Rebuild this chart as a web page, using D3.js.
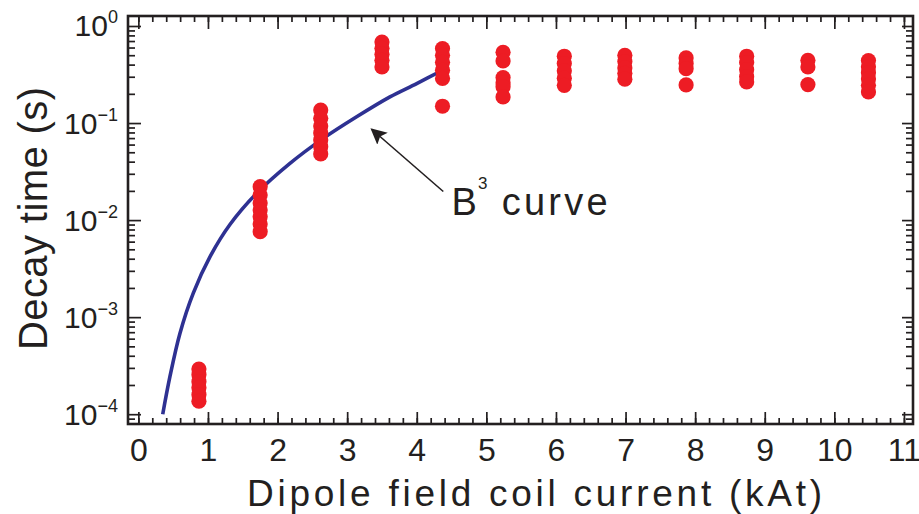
<!DOCTYPE html>
<html>
<head>
<meta charset="utf-8">
<script src="https://cdn.jsdelivr.net/npm/d3@7"></script>
<style>
  body { margin: 0; background: #fff; }
  svg { display: block; font-family: "Liberation Sans", Arial, sans-serif; }
  .axis path { display: none; }
  .axis line { stroke: #231f20; stroke-width: 1.7; }
</style>
</head>
<body>
<div id="chart"></div>
<script>
// measured columns (kAt) and decay times (s)
const currents = [0.87, 1.75, 2.62, 3.5, 4.37, 5.24, 6.12, 6.99, 7.87, 8.74, 9.62, 10.49];
const decayTimes = [
  [2.92e-4, 2.55e-4, 2.16e-4, 1.87e-4, 1.59e-4, 1.36e-4],
  [0.0221, 0.0181, 0.0150, 0.0127, 0.0108, 0.0091, 0.0076],
  [0.136, 0.112, 0.093, 0.079, 0.067, 0.057, 0.048],
  [0.684, 0.589, 0.512, 0.443, 0.378],
  [0.585, 0.499, 0.423, 0.350, 0.288, 0.149],
  [0.536, 0.436, 0.294, 0.26, 0.237, 0.186],
  [0.488, 0.41, 0.345, 0.29, 0.245],
  [0.499, 0.43, 0.37, 0.325, 0.283],
  [0.469, 0.41, 0.363, 0.247],
  [0.488, 0.42, 0.355, 0.30, 0.265],
  [0.443, 0.378, 0.249],
  [0.44, 0.38, 0.33, 0.285, 0.245, 0.209]
];

// B^3 fit curve
const curveCurrent = [0.35, 0.454, 0.598, 0.789, 1.03, 1.316, 1.70, 2.178, 2.657, 3.136, 3.615, 3.999, 4.37];
const curveTime = [1.0e-4, 2.45e-4, 6.84e-4, 1.77e-3, 4.2e-3, 9.0e-3, 0.0189, 0.0384, 0.0695, 0.116, 0.186, 0.255, 0.35];

const xTicks = d3.range(0, 12);
const xMinorTicks = d3.range(0, 55.5).map(i => i * 0.2);
const yTicks = [1e-4, 1e-3, 1e-2, 1e-1, 1];
const yTickExp = ["−4", "−3", "−2", "−1", "0"];

const svgWidth = 919;
const svgHeight = 514;
const plot = { left: 128, right: 913, top: 16, bottom: 424 };

const svg = d3.select("#chart").append("svg")
  .attr("width", svgWidth)
  .attr("height", svgHeight);

const x = d3.scaleLinear()
  .domain([-0.149, 11.13])
  .range([plot.left, plot.right]);

const y = d3.scaleLog()
  .domain([Math.pow(10, -4.101), Math.pow(10, 0.103)])
  .range([plot.bottom, plot.top]);

const yMinorTicks = [];
[-5, -4, -3, -2, -1, 0].forEach(e => {
  for (let m = 2; m <= 9; m++) {
    const v = m * Math.pow(10, e);
    if (v > y.domain()[0] && v < y.domain()[1]) yMinorTicks.push(v);
  }
});

// ticks (all inward)
const axes = svg.append("g");
axes.append("g").attr("class", "axis")
  .attr("transform", `translate(0,${plot.bottom})`)
  .call(d3.axisBottom(x).tickValues(xMinorTicks).tickSize(-6).tickFormat(""));
axes.append("g").attr("class", "axis")
  .attr("transform", `translate(0,${plot.bottom})`)
  .call(d3.axisBottom(x).tickValues(xTicks).tickSize(-12).tickFormat(""));
axes.append("g").attr("class", "axis")
  .attr("transform", `translate(0,${plot.top})`)
  .call(d3.axisTop(x).tickValues(xMinorTicks).tickSize(-6).tickFormat(""));
axes.append("g").attr("class", "axis")
  .attr("transform", `translate(0,${plot.top})`)
  .call(d3.axisTop(x).tickValues(xTicks).tickSize(-13).tickFormat(""));
axes.append("g").attr("class", "axis")
  .attr("transform", `translate(${plot.left},0)`)
  .call(d3.axisLeft(y).tickValues(yMinorTicks).tickSize(-7).tickFormat(""));
const yAxisLeft = axes.append("g").attr("class", "axis")
  .attr("transform", `translate(${plot.left},0)`)
  .call(d3.axisLeft(y).tickValues(yTicks).tickSize(-13).tickFormat(""));
axes.append("g").attr("class", "axis")
  .attr("transform", `translate(${plot.right},0)`)
  .call(d3.axisRight(y).tickValues(yMinorTicks).tickSize(-7).tickFormat(""));
axes.append("g").attr("class", "axis")
  .attr("transform", `translate(${plot.right},0)`)
  .call(d3.axisRight(y).tickValues(yTicks).tickSize(-11).tickFormat(""));

// frame
svg.append("rect")
  .attr("x", plot.left)
  .attr("y", plot.top)
  .attr("width", plot.right - plot.left)
  .attr("height", plot.bottom - plot.top)
  .attr("fill", "none")
  .attr("stroke", "#231f20")
  .attr("stroke-width", 2.6);

// x tick labels
svg.append("g")
  .attr("transform", `translate(0,${plot.bottom})`)
  .call(d3.axisBottom(x).tickValues(xTicks).tickSize(0).tickFormat(d3.format("d")))
  .call(g => g.select(".domain").remove())
  .selectAll("text")
  .attr("y", 37)
  .attr("dy", null)
  .attr("fill", "#231f20")
  .attr("font-size", 32)
  .attr("font-family", "Liberation Sans, Arial, sans-serif");

// y tick labels as 10^n
yAxisLeft.selectAll(".tick").each(function(d) {
  const t = d3.select(this).append("text")
    .attr("x", -10)
    .attr("y", 10)
    .attr("text-anchor", "end")
    .attr("fill", "#231f20")
    .attr("font-size", 30);
  t.append("tspan").text("10");
  t.append("tspan")
    .attr("dy", -13)
    .attr("font-size", 18)
    .text(yTickExp[yTicks.indexOf(d)]);
});

// fit curve
const line = d3.line()
  .x(d => x(d[0]))
  .y(d => y(d[1]))
  .curve(d3.curveCatmullRom.alpha(0.5));

svg.append("path")
  .datum(curveCurrent.map((c, i) => [c, curveTime[i]]))
  .attr("d", line)
  .attr("fill", "none")
  .attr("stroke", "#2e3192")
  .attr("stroke-width", 3.6);

// measured points
const points = currents.flatMap((c, i) => decayTimes[i].map(t => ({ current: c, time: t })));
svg.append("g")
  .selectAll("circle")
  .data(points)
  .join("circle")
  .attr("cx", d => x(d.current))
  .attr("cy", d => y(d.time))
  .attr("r", 7.6)
  .attr("fill", "#ed1c24");

// annotation arrow
svg.append("defs").append("marker")
  .attr("id", "head")
  .attr("viewBox", "0 0 10 10")
  .attr("refX", 9)
  .attr("refY", 5)
  .attr("markerWidth", 10)
  .attr("markerHeight", 10)
  .attr("markerUnits", "strokeWidth")
  .attr("orient", "auto")
  .append("path")
  .attr("d", "M0,0 L10,5 L0,10 L2,5 Z")
  .attr("fill", "#231f20");

svg.append("line")
  .attr("x1", x(4.381)).attr("y1", y(0.0197))
  .attr("x2", x(3.352)).attr("y2", y(0.0863))
  .attr("stroke", "#231f20")
  .attr("stroke-width", 1.6)
  .attr("marker-end", "url(#head)");

const note = svg.append("text")
  .attr("fill", "#231f20")
  .attr("font-size", 38);
note.append("tspan").attr("x", x(4.50)).attr("y", y(0.0113)).text("B");
note.append("tspan").attr("x", x(4.88)).attr("y", y(0.0113) - 26).attr("font-size", 17).text("3");
note.append("tspan").attr("x", x(5.22)).attr("y", y(0.0113))
  .attr("textLength", 106).attr("lengthAdjust", "spacing").text("curve");

// axis titles
svg.append("text")
  .attr("x", 247)
  .attr("y", 506)
  .attr("font-size", 37)
  .attr("fill", "#231f20")
  .attr("textLength", 575)
  .attr("lengthAdjust", "spacing")
  .text("Dipole field coil current (kAt)");

svg.append("text")
  .attr("transform", "translate(47,218.5) rotate(-90)")
  .attr("text-anchor", "middle")
  .attr("font-size", 40)
  .attr("fill", "#231f20")
  .attr("textLength", 263)
  .attr("lengthAdjust", "spacing")
  .text("Decay time (s)");
</script>
</body>
</html>
